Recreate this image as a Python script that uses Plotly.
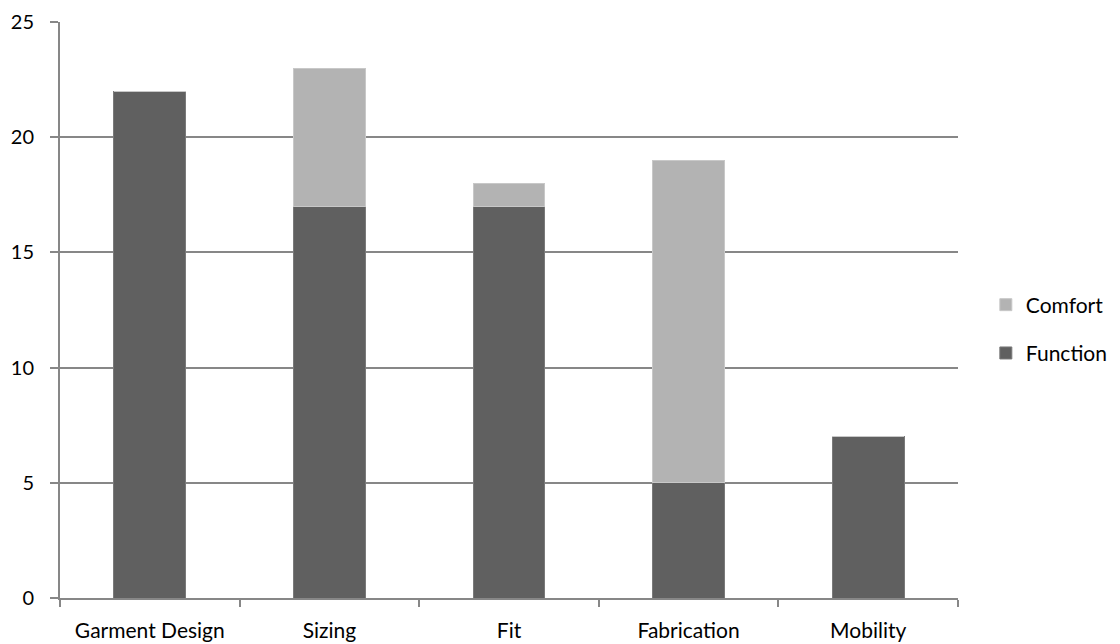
import plotly.graph_objects as go

categories = ["Garment Design", "Sizing", "Fit", "Fabrication", "Mobility"]
function_vals = [22, 17, 17, 5, 7]
comfort_vals = [0, 6, 1, 14, 0]
y_ticks = [0, 5, 10, 15, 20, 25]

fig = go.Figure()
fig.add_trace(go.Bar(x=categories, y=function_vals, name="Function", legendgroup="f",
                     legendrank=2,
                     marker=dict(color="#606060", line=dict(color="#7a7a7a", width=1)),
                     width=0.4))
fig.add_trace(go.Bar(x=categories, y=comfort_vals, name="Comfort", legendgroup="c",
                     legendrank=1,
                     marker=dict(color="#b3b3b3", line=dict(color="#c8c8c8", width=1)),
                     width=0.4))

fig.update_layout(
    barmode="stack",
    width=1120, height=644,
    margin=dict(l=52, r=170, t=14, b=54, autoexpand=False),
    paper_bgcolor="white", plot_bgcolor="white",
    font=dict(family="Lato", size=21, color="black"),
    showlegend=True,
    legend=dict(traceorder="grouped", x=1.031, xanchor="left", y=0.467,
                yanchor="middle", font=dict(size=21), itemwidth=30, tracegroupgap=18),
    xaxis=dict(showline=True, linecolor="#878787", linewidth=2, ticks="outside",
               tickson="boundaries", ticklen=7, tickcolor="#878787", tickwidth=2,
               showgrid=False, range=[-0.5, 4.5], ticklabelstandoff=13,
               automargin=False),
    yaxis=dict(range=[0, 25], tickvals=y_ticks, showgrid=True, gridcolor="#878787",
               gridwidth=2, showline=True, linecolor="#878787", linewidth=2,
               ticks="outside", ticklen=8, tickcolor="#878787", tickwidth=2,
               zeroline=False, ticklabelstandoff=12, automargin=False,
               tickfont=dict(size=20)),
)

fig.write_html("out.html")
